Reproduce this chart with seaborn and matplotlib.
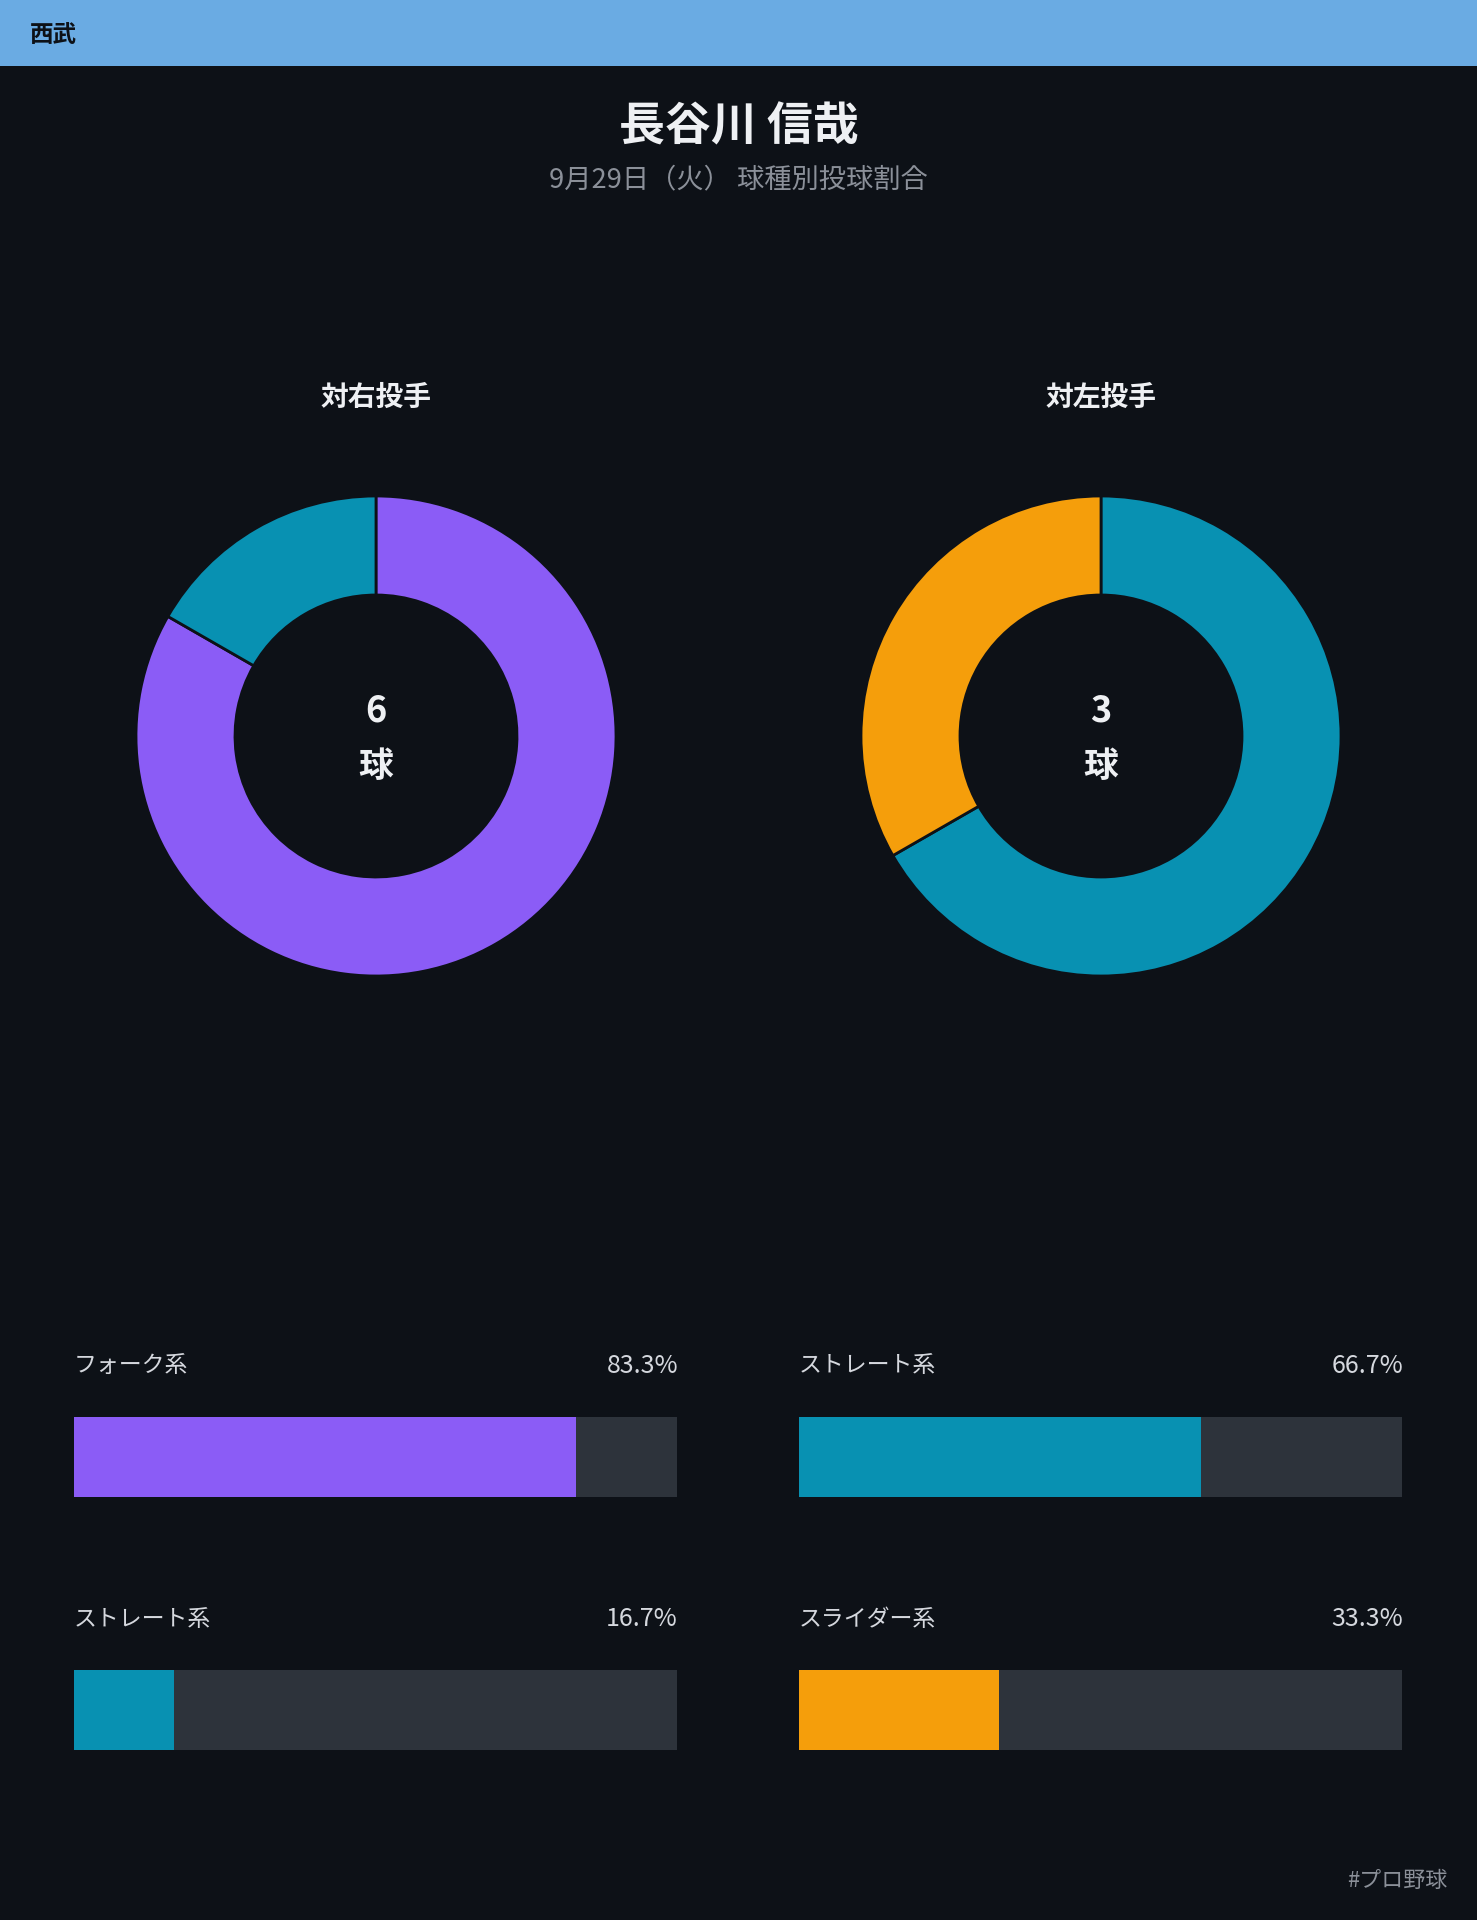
import matplotlib
matplotlib.use("Agg")
import matplotlib.pyplot as plt
import seaborn as sns
import pandas as pd
from matplotlib.patches import Rectangle

# ---- data ----
player = "長谷川 信哉"
team = "西武"
subtitle = "9月29日（火） 球種別投球割合"
hashtag = "#プロ野球"
panel_titles = ["対右投手", "対左投手"]
total_pitches = [6, 3]
right_types = ["フォーク系", "ストレート系"]
right_pcts = [83.3, 16.7]
left_types = ["ストレート系", "スライダー系"]
left_pcts = [66.7, 33.3]
type_colors = {"フォーク系": "#8b5cf6", "ストレート系": "#0891b2", "スライダー系": "#f59e0b"}

BG = "#0d1117"
TRACK = "#2d333b"
HEADER = "#6aabe3"

sns.set_theme(style="dark")
plt.rcParams["font.family"] = ["Noto Sans CJK JP", "DejaVu Sans"]

W, H = 1477, 1920
fig = plt.figure(figsize=(W / 100, H / 100), dpi=100, facecolor=BG)


def fx(px):
    return px / W


def fy(py):
    return 1 - py / H


# header band
fig.patches.append(Rectangle((0, fy(66)), 1, 66 / H, transform=fig.transFigure,
                             facecolor=HEADER, edgecolor="none", zorder=0))
fig.text(fx(30), fy(35), team, fontsize=17, fontweight="bold", color="#0d1117",
         ha="left", va="center")

fig.text(0.5, fy(127), player, fontsize=33, fontweight="bold", color="#eef0f3",
         ha="center", va="center")
fig.text(0.5, fy(180), subtitle, fontsize=19.6, color="#8b9099", ha="center", va="center")

# donuts
centers_x = [376, 1101]
cy = 736
R = 240
for i, (types, pcts) in enumerate([(right_types, right_pcts), (left_types, left_pcts)]):
    cx = centers_x[i]
    ax = fig.add_axes([fx(cx - R), fy(cy + R), 2 * R / W, 2 * R / H])
    ax.set_facecolor(BG)
    ax.pie(pcts, colors=[type_colors[t] for t in types], startangle=90, counterclock=False,
           radius=1, wedgeprops=dict(width=0.4125, edgecolor=BG, linewidth=2))
    ax.set_xlim(-1.0, 1.0)
    ax.set_ylim(-1.0, 1.0)
    ax.axis("off")
    fig.text(fx(cx), fy(398), panel_titles[i], fontsize=20, fontweight="bold",
             color="#eef0f3", ha="center", va="center")
    fig.text(fx(cx), fy(711), str(total_pitches[i]), fontsize=26, fontweight="bold",
             color="#eef0f3", ha="center", va="center")
    fig.text(fx(cx), fy(767), "球", fontsize=25, fontweight="bold",
             color="#eef0f3", ha="center", va="center")

# bars
col_x = [(73.5, 677), (798.5, 1402)]
rows = [(1366, 1417, 1497), (1619, 1670, 1750)]
for c, (types, pcts) in enumerate([(right_types, right_pcts), (left_types, left_pcts)]):
    x0, x1 = col_x[c]
    for r, (t, p) in enumerate(zip(types, pcts)):
        ly, by0, by1 = rows[r]
        ax = fig.add_axes([fx(x0), fy(by1), (x1 - x0) / W, (by1 - by0) / H])
        ax.set_facecolor(BG)
        df = pd.DataFrame({"type": [t], "pct": [p], "full": [100.0]})
        sns.barplot(data=df, x="full", y="type", color=TRACK, width=1.0, ax=ax,
                    saturation=1, orient="h", linewidth=0, edgecolor="none")
        sns.barplot(data=df, x="pct", y="type", color=type_colors[t], width=1.0, ax=ax,
                    saturation=1, orient="h", linewidth=0, edgecolor="none")
        ax.set_xlim(0, 100)
        ax.set_ylim(0.5, -0.5)
        ax.axis("off")
        fig.text(fx(x0), fy(ly), t, fontsize=16.5, color="#d5d8de", ha="left", va="center")
        fig.text(fx(x1 + 1), fy(ly), f"{p:.1f}%", fontsize=18, color="#d5d8de",
                 ha="right", va="center")

fig.text(fx(1447), fy(1881), hashtag, fontsize=15.8, color="#8b9099", ha="right", va="center")

fig.savefig("out.png", dpi=100, facecolor=BG)
